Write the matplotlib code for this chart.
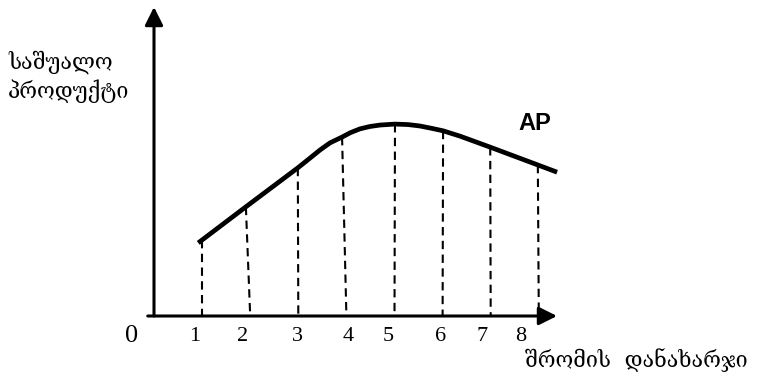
import matplotlib
matplotlib.use("Agg")
import matplotlib.pyplot as plt

# labour input (units) and the average product curve
labour = [1, 2, 3, 4, 5, 6, 7, 8]
tick_labels = ["1", "2", "3", "4", "5", "6", "7", "8"]

# where each dashed drop line meets the AP curve
drop_x = [1.00, 1.91, 2.99, 3.91, 5.01, 6.01, 6.99, 7.98]
drop_ap = [1.58, 2.27, 3.08, 3.72, 3.99, 3.85, 3.51, 3.14]

# AP curve traced along its length
curve_x = [0.92, 1.91, 2.99, 3.24, 3.45, 3.66, 3.91, 4.08, 4.28, 4.49,
           4.70, 5.01, 5.28, 5.53, 5.78, 6.01, 6.36, 6.99, 7.98, 8.38]
curve_ap = [1.52, 2.27, 3.08, 3.28, 3.45, 3.60, 3.72, 3.81, 3.89, 3.94,
            3.97, 3.99, 3.98, 3.95, 3.90, 3.85, 3.74, 3.51, 3.14, 2.99]

y_label = "საშუალო\nპროდუქტი"
x_label = "შრომის  დანახარჯი"
curve_label = "AP"

W, H = 766, 382
PX = 48.1          # pixels per unit
X0, Y0 = 154, 316  # origin in pixels from top-left


def main():
    fig = plt.figure(figsize=(W / 100, H / 100), dpi=100)
    ax = fig.add_axes([0, 0, 1, 1])
    ax.set_xlim(-X0 / PX, (W - X0) / PX)
    ax.set_ylim(-(H - Y0) / PX, Y0 / PX)
    ax.axis("off")

    # axes with arrow heads
    arrow = dict(arrowstyle="-|>,head_length=1.1,head_width=0.55",
                 color="black", lw=2.2, shrinkA=0, shrinkB=0)
    ax.annotate("", xy=(0, (Y0 - 7) / PX), xytext=(0, 0), arrowprops=arrow)
    ax.annotate("", xy=((557 - X0) / PX, 0), xytext=(-0.13, 0), arrowprops=arrow)

    # dashed drop lines
    for top_x, ap, x in zip(drop_x, drop_ap, labour):
        ax.plot([top_x, x], [ap, 0], color="black", lw=1.5,
                linestyle=(0, (4.0, 2.6)))

    ax.plot(curve_x, curve_ap, color="black", lw=3.4,
            solid_capstyle="butt", solid_joinstyle="round")

    # tick numbers
    label_x = [0.85, 1.85, 2.99, 4.03, 4.86, 5.95, 6.82, 7.63]
    for lx, t in zip(label_x, tick_labels):
        ax.text(lx, -0.42, t, ha="center", va="center", fontsize=16,
                family="Liberation Serif")
    ax.text(-0.46, -0.42, "0", ha="center", va="center", fontsize=19,
            family="Liberation Serif")

    ax.text((535 - X0) / PX, (Y0 - 124) / PX, curve_label, ha="center",
            va="center", fontsize=17, fontweight="bold",
            family="Liberation Sans")

    fig.text(8 / W, 1 - 50 / H, y_label, ha="left", va="top", fontsize=15.5,
             family="DejaVu Serif", linespacing=1.3)
    fig.text(525 / W, 1 - 367 / H, x_label, ha="left", va="baseline",
             fontsize=15.5, family="DejaVu Serif")

    fig.savefig("out.png", dpi=100)
    plt.close(fig)


if __name__ == "__main__":
    main()
